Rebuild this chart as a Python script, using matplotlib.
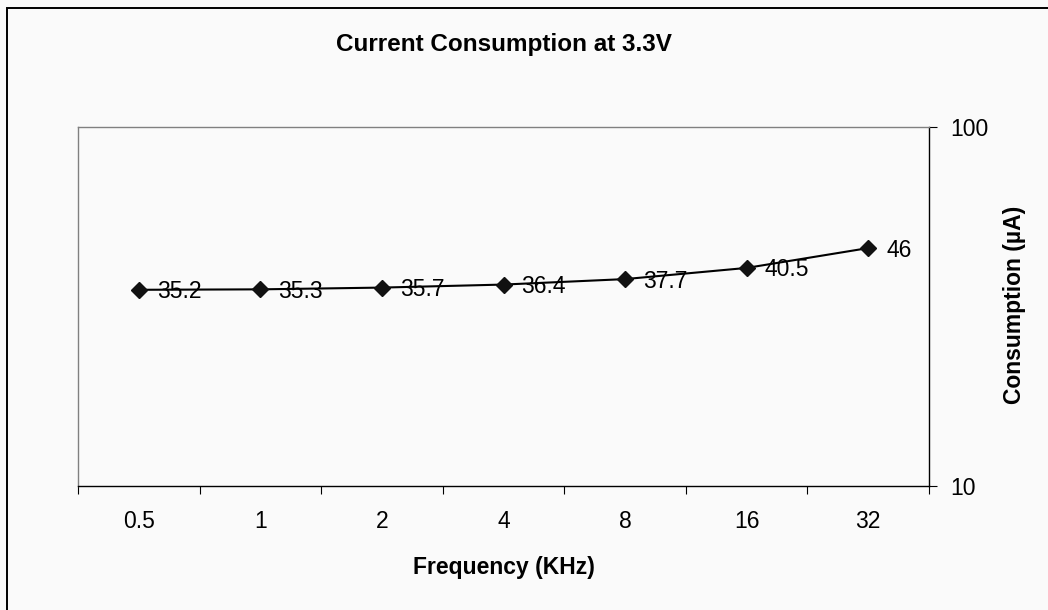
from matplotlib import pyplot as plt
from matplotlib.patches import Rectangle
import numpy as np

freq_labels = ['0.5', '1', '2', '4', '8', '16', '32']
consumption = [35.2, 35.3, 35.7, 36.4, 37.7, 40.5, 46]

bg = '#fafafa'
plt.rcParams['font.family'] = ['Liberation Sans', 'DejaVu Sans']

fig = plt.figure(figsize=(10.48, 6.10), dpi=100, facecolor=bg)
ax = fig.add_axes([78 / 1048, 1 - 486 / 610, 851 / 1048, 359 / 610])
ax.set_facecolor(bg)

# outer chart frame (runs off the right and bottom edges)
fig.patches.append(Rectangle((6.5 / 1048, -0.1), 1.2, 1 - 7.5 / 610 + 0.1,
                             transform=fig.transFigure, fill=False,
                             edgecolor='black', linewidth=1.4))

x = np.arange(len(consumption))
ax.plot(x, consumption, color='black', linewidth=1.5, marker='D',
        markersize=8, markerfacecolor='#111111', markeredgecolor='#111111')
for xi, v in zip(x, consumption):
    ax.annotate('%g' % v, (xi, v), xytext=(18, -2), textcoords='offset pixels',
                ha='left', va='center', fontsize=16.5, color='black')

ax.set_yscale('log')
ax.set_ylim(10, 100)
ax.set_xlim(-0.5, len(consumption) - 0.5)

# category axis: ticks between categories, labels at centres
ax.set_xticks(np.arange(len(consumption) + 1) - 0.5)
ax.set_xticklabels([])
ax.set_xticks(x, minor=True)
ax.set_xticklabels(freq_labels, minor=True, fontsize=16.5)
ax.tick_params(axis='x', which='major', direction='out', length=6, width=0.8)
ax.tick_params(axis='x', which='minor', length=0, pad=17)

ax.yaxis.tick_right()
ax.set_yticks([10, 100])
ax.set_yticklabels(['10', '100'], fontsize=16.5)
ax.yaxis.set_minor_locator(plt.NullLocator())
ax.tick_params(axis='y', which='major', direction='out', length=6, width=0.8, pad=9)

for side in ['left', 'top']:
    ax.spines[side].set_color('#808080')
    ax.spines[side].set_linewidth(1.0)
for side in ['bottom', 'right']:
    ax.spines[side].set_color('black')
    ax.spines[side].set_linewidth(1.0)

ax.set_xlabel('Frequency (KHz)', fontsize=16.5, fontweight='bold', va='center')
ax.xaxis.set_label_coords(0.5, -0.228)
ax.set_ylabel('Consumption (\u00b5A)', fontsize=16.5, fontweight='bold',
              rotation=90, ha='center', va='center')
ax.yaxis.set_label_coords(1.101, 0.504)

ax.text(0.5, 1.231, 'Current Consumption at 3.3V', transform=ax.transAxes,
        ha='center', va='center', fontsize=17.5, fontweight='bold')

plt.savefig('out.png', facecolor=bg)
